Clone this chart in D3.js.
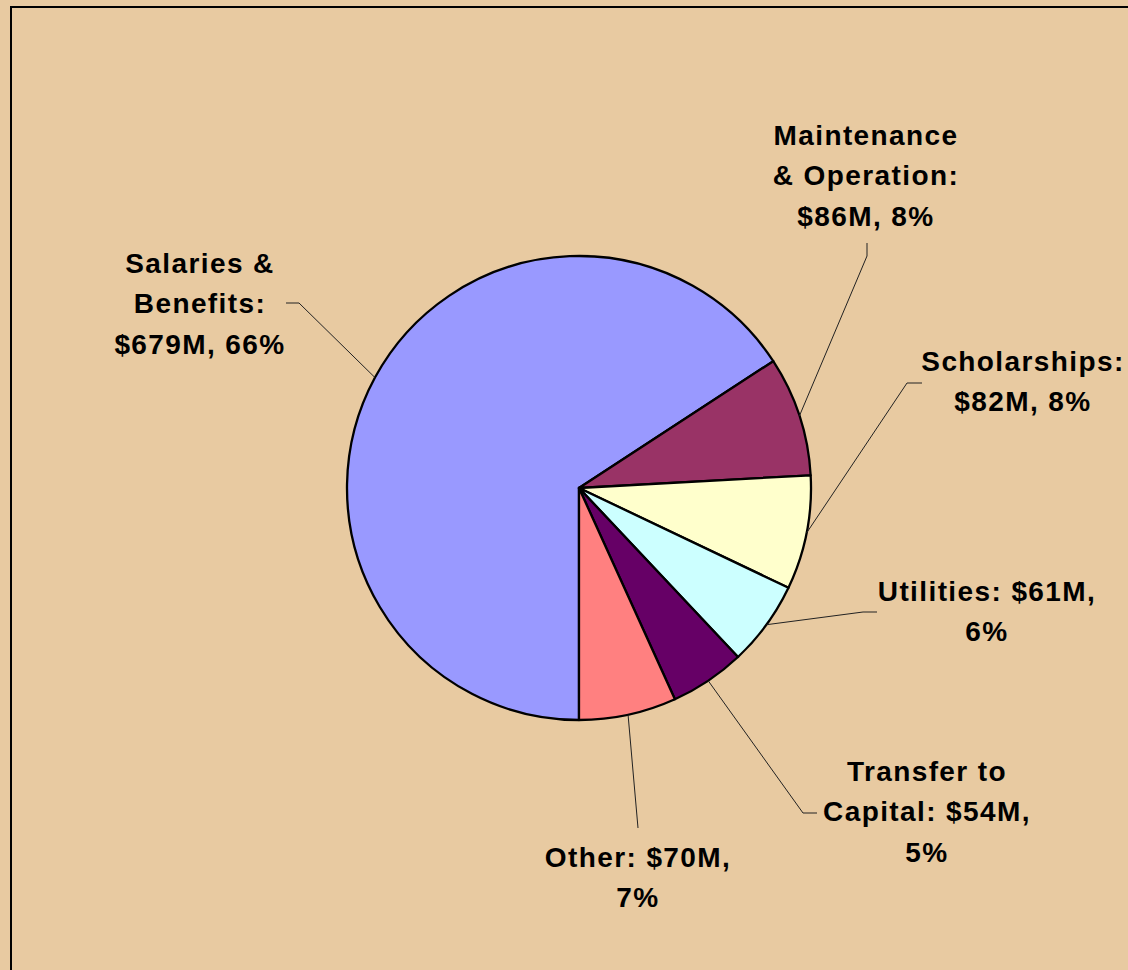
<!DOCTYPE html>
<html><head><meta charset="utf-8">
<script src="https://cdn.jsdelivr.net/npm/d3@7"></script>
<style>
html,body{margin:0;padding:0;background:#E8CAA1;overflow:hidden;}
svg{display:block;}
text{font-family:"Liberation Sans",Arial,sans-serif;font-weight:bold;fill:#000;}
</style></head>
<body>
<script>
// ---- data ----
const categories = ["Salaries & Benefits","Maintenance & Operation","Scholarships","Utilities","Transfer to Capital","Other"];
const values = [679, 86, 82, 61, 54, 70];            // $M
const colors = ["#9999FF","#993366","#FFFFCC","#CCFFFF","#660066","#FF8080"];
const labelLines = [
  ["Salaries &","Benefits:","$679M, 66%"],
  ["Maintenance","& Operation:","$86M, 8%"],
  ["Scholarships:","$82M, 8%"],
  ["Utilities: $61M,","6%"],
  ["Transfer to","Capital: $54M,","5%"],
  ["Other: $70M,","7%"]
];

// ---- layout (positions) ----
const W = 1128, H = 970;
const cx = 579, cy = 488, R = 232;
// label block: center x, first line center y
const labelPos = [[200,263],[866,135],[1023,361],[987,591],[927,771],[638,857]];
// leader line: text-side endpoint and elbow point
const leaderPts = [
  [[286,303],[299,303]],
  [[867,243],[867,256]],
  [[922,383],[907,383]],
  [[877,612],[863,612]],
  [[817,813],[803,813]],
  [[638,828],[638,828]]
];
const lineH = 40.3;

const svg = d3.select("body").append("svg").attr("width",W).attr("height",H);

// border
svg.append("rect").attr("x",11).attr("y",7).attr("width",W+20).attr("height",H+20)
  .attr("fill","#E8CAA1").attr("stroke","#000").attr("stroke-width",2);

const pie = d3.pie().sort(null).startAngle(Math.PI).endAngle(3*Math.PI);
const arcs = pie(values);
const arc = d3.arc().innerRadius(0).outerRadius(R);

const g = svg.append("g").attr("transform",`translate(${cx},${cy})`);
g.selectAll("path").data(arcs).join("path")
  .attr("d",arc).attr("fill",(d,i)=>colors[i])
  .attr("stroke","#000").attr("stroke-width",2.3).attr("stroke-linejoin","round");

// leader lines
const edgeArc = d3.arc().innerRadius(R).outerRadius(R);
arcs.forEach((d,i)=>{
  const [ex,ey] = edgeArc.centroid(d);
  const pts = [leaderPts[i][0], leaderPts[i][1], [cx+ex, cy+ey]];
  svg.append("path").attr("d", d3.line()(pts))
    .attr("fill","none").attr("stroke","#222").attr("stroke-width",1);
});

// labels
labelLines.forEach((lines,i)=>{
  const [lx,ly] = labelPos[i];
  const t = svg.append("text").attr("text-anchor","middle")
    .style("font-size","28px").style("letter-spacing","1.4px");
  lines.forEach((s,j)=>{
    t.append("tspan").attr("x",lx).attr("y",ly+j*lineH).attr("dy","0.36em").text(s);
  });
});
</script>
</body></html>
